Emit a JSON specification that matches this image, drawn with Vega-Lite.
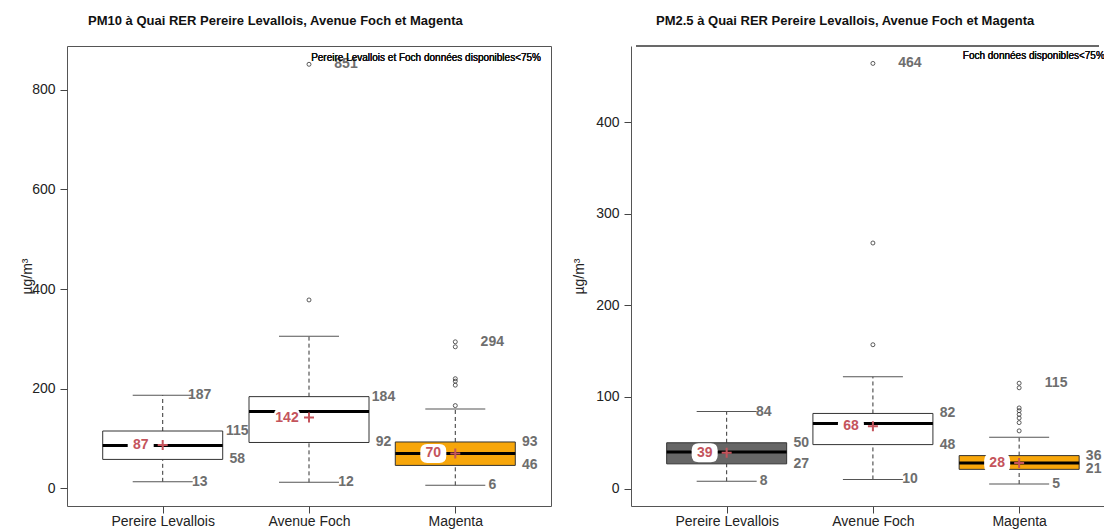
{
  "$schema": "https://vega.github.io/schema/vega-lite/v6.json",
  "padding": {"left": 19, "top": 14, "right": 0, "bottom": 0},
  "config": {
    "font": "Liberation Sans",
    "view": {"stroke": "#555", "strokeWidth": 1},
    "axis": {"grid": false, "tickSize": 7, "tickColor": "#444", "labelFontSize": 14, "labelColor": "#222", "domainColor": "#555", "titleFontWeight": "normal", "titleFontSize": 14, "titleColor": "#222", "labelFont": "Liberation Sans", "titleFont": "Liberation Sans", "labelFlush": false, "labelOverlap": false},
    "axisX": {"labelPadding": 1},
    "axisY": {"labelPadding": 5, "labelAngle": 0, "titleAngle": -90, "titleAlign": "center", "titleBaseline": "bottom", "titleY": 230},
    "title": {"fontSize": 13, "fontWeight": "bold", "color": "#111", "anchor": "start", "frame": "group", "baseline": "alphabetic", "offset": 18, "font": "Liberation Sans"}
  },
  "datasets": {
    "pm10": [
      {"site": "Pereire Levallois", "pos": 1, "low": 13, "q1": 58, "med": 86, "q3": 115, "high": 187, "mean": 87, "max": 187},
      {"site": "Avenue Foch", "pos": 2, "low": 12, "q1": 92, "med": 154, "q3": 184, "high": 305, "mean": 142, "max": 851},
      {"site": "Magenta", "pos": 3, "low": 6, "q1": 46, "med": 70, "q3": 93, "high": 159, "mean": 70, "max": 294}
    ],
    "pm10_out": [
      {"site": "Avenue Foch", "pos": 2, "value": 378},
      {"site": "Avenue Foch", "pos": 2, "value": 851},
      {"site": "Magenta", "pos": 3, "value": 166},
      {"site": "Magenta", "pos": 3, "value": 207},
      {"site": "Magenta", "pos": 3, "value": 215},
      {"site": "Magenta", "pos": 3, "value": 220},
      {"site": "Magenta", "pos": 3, "value": 284},
      {"site": "Magenta", "pos": 3, "value": 294}
    ],
    "pm25": [
      {"site": "Pereire Levallois", "pos": 1, "low": 8, "q1": 27, "med": 40, "q3": 50, "high": 84, "mean": 39, "max": 84},
      {"site": "Avenue Foch", "pos": 2, "low": 10, "q1": 48, "med": 71, "q3": 82, "high": 122, "mean": 68, "max": 464},
      {"site": "Magenta", "pos": 3, "low": 5, "q1": 21, "med": 28, "q3": 36, "high": 56, "mean": 28, "max": 115}
    ],
    "pm25_out": [
      {"site": "Avenue Foch", "pos": 2, "value": 157},
      {"site": "Avenue Foch", "pos": 2, "value": 268},
      {"site": "Avenue Foch", "pos": 2, "value": 464},
      {"site": "Magenta", "pos": 3, "value": 63},
      {"site": "Magenta", "pos": 3, "value": 72},
      {"site": "Magenta", "pos": 3, "value": 77},
      {"site": "Magenta", "pos": 3, "value": 81},
      {"site": "Magenta", "pos": 3, "value": 85},
      {"site": "Magenta", "pos": 3, "value": 88},
      {"site": "Magenta", "pos": 3, "value": 110},
      {"site": "Magenta", "pos": 3, "value": 115}
    ]
  },
  "resolve": {"scale": {"color": "independent"}},
  "spacing": 20,
  "hconcat": [
    {
      "width": 484,
      "height": 460,
      "title": {"text": "PM10 à Quai RER Pereire Levallois, Avenue Foch et Magenta", "dx": 21},
      "data": {"name": "pm10"},
      "encoding": {
        "x": {"field": "pos", "type": "quantitative", "scale": {"domain": [0.38, 3.62], "nice": false, "zero": false},
          "axis": {"values": [1, 2, 3], "labelExpr": "datum.value == 1 ? 'Pereire Levallois' : datum.value == 2 ? 'Avenue Foch' : 'Magenta'", "domain": false, "title": null}}
      },
      "layer": [
        {"mark": {"type": "rule", "strokeDash": [4, 3], "color": "#333", "strokeWidth": 1},
         "encoding": {"y": {"field": "q3", "type": "quantitative", "scale": {"domain": [-35.5, 887.7], "nice": false, "zero": false}, "axis": {"values": [0, 200, 400, 600, 800], "title": "µg/m³", "domain": false, "titleX": -33}}, "y2": {"field": "high"}}},
        {"mark": {"type": "rule", "strokeDash": [4, 3], "color": "#333", "strokeWidth": 1},
         "encoding": {"y": {"field": "low", "type": "quantitative", "scale": {"domain": [-35.5, 887.7], "nice": false, "zero": false}, "axis": {"values": [0, 200, 400, 600, 800], "title": "µg/m³", "domain": false, "titleX": -33}}, "y2": {"field": "q1"}}},
        {"mark": {"type": "tick", "orient": "horizontal", "size": 60, "thickness": 1, "color": "#555", "opacity": 1},
         "encoding": {"y": {"field": "high", "type": "quantitative", "scale": {"domain": [-35.5, 887.7], "nice": false, "zero": false}, "axis": {"values": [0, 200, 400, 600, 800], "title": "µg/m³", "domain": false, "titleX": -33}}}},
        {"mark": {"type": "tick", "orient": "horizontal", "size": 60, "thickness": 1, "color": "#555", "opacity": 1},
         "encoding": {"y": {"field": "low", "type": "quantitative", "scale": {"domain": [-35.5, 887.7], "nice": false, "zero": false}, "axis": {"values": [0, 200, 400, 600, 800], "title": "µg/m³", "domain": false, "titleX": -33}}}},
        {"mark": {"type": "bar", "width": 120, "stroke": "#333", "strokeWidth": 1},
         "encoding": {"y": {"field": "q1", "type": "quantitative", "scale": {"domain": [-35.5, 887.7], "nice": false, "zero": false}, "axis": {"values": [0, 200, 400, 600, 800], "title": "µg/m³", "domain": false, "titleX": -33}}, "y2": {"field": "q3"},
           "color": {"field": "site", "type": "nominal", "scale": {"domain": ["Pereire Levallois", "Avenue Foch", "Magenta"], "range": ["#ffffff", "#ffffff", "#F7A60A"]}, "legend": null}}},
        {"mark": {"type": "tick", "orient": "horizontal", "size": 120, "thickness": 3, "color": "#000", "opacity": 1},
         "encoding": {"y": {"field": "med", "type": "quantitative", "scale": {"domain": [-35.5, 887.7], "nice": false, "zero": false}, "axis": {"values": [0, 200, 400, 600, 800], "title": "µg/m³", "domain": false, "titleX": -33}}}},
        {"data": {"name": "pm10_out"},
         "mark": {"type": "point", "shape": "circle", "size": 16, "filled": false, "color": "#333", "strokeWidth": 0.8, "opacity": 1},
         "encoding": {"y": {"field": "value", "type": "quantitative", "scale": {"domain": [-35.5, 887.7], "nice": false, "zero": false}, "axis": {"values": [0, 200, 400, 600, 800], "title": "µg/m³", "domain": false, "titleX": -33}}}},
        {"mark": {"type": "point", "shape": "M-2.947,-1L-1.685,-1Q-0.948,-1,-0.948,-0.263L-0.948,0.263Q-0.948,1,-1.685,1L-2.947,1Q-3.684,1,-3.684,0.263L-3.684,-0.263Q-3.684,-1,-2.947,-1Z", "size": 361, "filled": true, "color": "#ffffff", "strokeWidth": 0, "opacity": 1},
         "encoding": {"y": {"field": "mean", "type": "quantitative", "scale": {"domain": [-35.5, 887.7], "nice": false, "zero": false}, "axis": {"values": [0, 200, 400, 600, 800], "title": "µg/m³", "domain": false, "titleX": -33}}}},
        {"mark": {"type": "text", "dx": -22, "fontSize": 14, "fontWeight": "bold", "color": "#C4545C", "baseline": "middle", "align": "center"},
         "encoding": {"y": {"field": "mean", "type": "quantitative", "scale": {"domain": [-35.5, 887.7], "nice": false, "zero": false}, "axis": {"values": [0, 200, 400, 600, 800], "title": "µg/m³", "domain": false, "titleX": -33}}, "text": {"field": "mean", "type": "quantitative"}}},
        {"mark": {"type": "point", "shape": "M-1,0L1,0M0,-1L0,1", "size": 100, "filled": false, "color": "#C4545C", "strokeWidth": 2, "opacity": 1},
         "encoding": {"y": {"field": "mean", "type": "quantitative", "scale": {"domain": [-35.5, 887.7], "nice": false, "zero": false}, "axis": {"values": [0, 200, 400, 600, 800], "title": "µg/m³", "domain": false, "titleX": -33}}}},
        {"mark": {"type": "text", "dx": 37, "fontSize": 14, "fontWeight": "bold", "color": "#6E6E6E", "baseline": "middle", "align": "center"},
         "encoding": {"y": {"field": "max", "type": "quantitative", "scale": {"domain": [-35.5, 887.7], "nice": false, "zero": false}, "axis": {"values": [0, 200, 400, 600, 800], "title": "µg/m³", "domain": false, "titleX": -33}}, "text": {"field": "max", "type": "quantitative"}}},
        {"mark": {"type": "text", "dx": 37, "fontSize": 14, "fontWeight": "bold", "color": "#6E6E6E", "baseline": "middle", "align": "center"},
         "encoding": {"y": {"field": "low", "type": "quantitative", "scale": {"domain": [-35.5, 887.7], "nice": false, "zero": false}, "axis": {"values": [0, 200, 400, 600, 800], "title": "µg/m³", "domain": false, "titleX": -33}}, "text": {"field": "low", "type": "quantitative"}}},
        {"mark": {"type": "text", "dx": 74.5, "fontSize": 14, "fontWeight": "bold", "color": "#6E6E6E", "baseline": "middle", "align": "center"},
         "encoding": {"y": {"field": "q3", "type": "quantitative", "scale": {"domain": [-35.5, 887.7], "nice": false, "zero": false}, "axis": {"values": [0, 200, 400, 600, 800], "title": "µg/m³", "domain": false, "titleX": -33}}, "text": {"field": "q3", "type": "quantitative"}}},
        {"mark": {"type": "text", "dx": 74.5, "fontSize": 14, "fontWeight": "bold", "color": "#6E6E6E", "baseline": "middle", "align": "center"},
         "encoding": {"y": {"field": "q1", "type": "quantitative", "scale": {"domain": [-35.5, 887.7], "nice": false, "zero": false}, "axis": {"values": [0, 200, 400, 600, 800], "title": "µg/m³", "domain": false, "titleX": -33}}, "text": {"field": "q1", "type": "quantitative"}}},
        {"mark": {"type": "text", "dx": -5, "fontSize": 10, "color": "#111", "baseline": "middle", "align": "right"},
         "encoding": {
           "x": {"datum": 3.62, "type": "quantitative", "scale": {"domain": [0.38, 3.62], "nice": false, "zero": false}, "axis": {"values": [1, 2, 3], "labelExpr": "datum.value == 1 ? 'Pereire Levallois' : datum.value == 2 ? 'Avenue Foch' : 'Magenta'", "domain": false, "title": null}},
           "y": {"datum": 864, "type": "quantitative", "scale": {"domain": [-35.5, 887.7], "nice": false, "zero": false}, "axis": {"values": [0, 200, 400, 600, 800], "title": "µg/m³", "domain": false, "titleX": -33}},
           "text": {"value": "Pereire Levallois et Foch données disponibles<75%"}}}
      ]
    },
    {
      "width": 473,
      "height": 460,
      "view": {"stroke": null},
      "title": {"text": "PM2.5 à Quai RER Pereire Levallois, Avenue Foch et Magenta", "dx": 25},
      "data": {"name": "pm25"},
      "encoding": {
        "x": {"field": "pos", "type": "quantitative", "scale": {"domain": [0.38, 3.546], "nice": false, "zero": false},
          "axis": {"values": [1, 2, 3], "labelExpr": "datum.value == 1 ? 'Pereire Levallois' : datum.value == 2 ? 'Avenue Foch' : 'Magenta'", "domain": true, "title": null}}
      },
      "layer": [
        {"mark": {"type": "rule", "strokeDash": [4, 3], "color": "#333", "strokeWidth": 1},
         "encoding": {"y": {"field": "q3", "type": "quantitative", "scale": {"domain": [-19, 483], "nice": false, "zero": false}, "axis": {"values": [0, 100, 200, 300, 400], "title": "µg/m³", "domain": true, "titleX": -45}}, "y2": {"field": "high"}}},
        {"mark": {"type": "rule", "strokeDash": [4, 3], "color": "#333", "strokeWidth": 1},
         "encoding": {"y": {"field": "low", "type": "quantitative", "scale": {"domain": [-19, 483], "nice": false, "zero": false}, "axis": {"values": [0, 100, 200, 300, 400], "title": "µg/m³", "domain": true, "titleX": -45}}, "y2": {"field": "q1"}}},
        {"mark": {"type": "tick", "orient": "horizontal", "size": 60, "thickness": 1, "color": "#555", "opacity": 1},
         "encoding": {"y": {"field": "high", "type": "quantitative", "scale": {"domain": [-19, 483], "nice": false, "zero": false}, "axis": {"values": [0, 100, 200, 300, 400], "title": "µg/m³", "domain": true, "titleX": -45}}}},
        {"mark": {"type": "tick", "orient": "horizontal", "size": 60, "thickness": 1, "color": "#555", "opacity": 1},
         "encoding": {"y": {"field": "low", "type": "quantitative", "scale": {"domain": [-19, 483], "nice": false, "zero": false}, "axis": {"values": [0, 100, 200, 300, 400], "title": "µg/m³", "domain": true, "titleX": -45}}}},
        {"mark": {"type": "bar", "width": 120, "stroke": "#333", "strokeWidth": 1},
         "encoding": {"y": {"field": "q1", "type": "quantitative", "scale": {"domain": [-19, 483], "nice": false, "zero": false}, "axis": {"values": [0, 100, 200, 300, 400], "title": "µg/m³", "domain": true, "titleX": -45}}, "y2": {"field": "q3"},
           "color": {"field": "site", "type": "nominal", "scale": {"domain": ["Pereire Levallois", "Avenue Foch", "Magenta"], "range": ["#666666", "#ffffff", "#F7A60A"]}, "legend": null}}},
        {"mark": {"type": "tick", "orient": "horizontal", "size": 120, "thickness": 3, "color": "#000", "opacity": 1},
         "encoding": {"y": {"field": "med", "type": "quantitative", "scale": {"domain": [-19, 483], "nice": false, "zero": false}, "axis": {"values": [0, 100, 200, 300, 400], "title": "µg/m³", "domain": true, "titleX": -45}}}},
        {"data": {"name": "pm25_out"},
         "mark": {"type": "point", "shape": "circle", "size": 16, "filled": false, "color": "#333", "strokeWidth": 0.8, "opacity": 1},
         "encoding": {"y": {"field": "value", "type": "quantitative", "scale": {"domain": [-19, 483], "nice": false, "zero": false}, "axis": {"values": [0, 100, 200, 300, 400], "title": "µg/m³", "domain": true, "titleX": -45}}}},
        {"mark": {"type": "point", "shape": "M-2.947,-1L-1.685,-1Q-0.948,-1,-0.948,-0.263L-0.948,0.263Q-0.948,1,-1.685,1L-2.947,1Q-3.684,1,-3.684,0.263L-3.684,-0.263Q-3.684,-1,-2.947,-1Z", "size": 361, "filled": true, "color": "#ffffff", "strokeWidth": 0, "opacity": 1},
         "encoding": {"y": {"field": "mean", "type": "quantitative", "scale": {"domain": [-19, 483], "nice": false, "zero": false}, "axis": {"values": [0, 100, 200, 300, 400], "title": "µg/m³", "domain": true, "titleX": -45}}}},
        {"mark": {"type": "text", "dx": -22, "fontSize": 14, "fontWeight": "bold", "color": "#C4545C", "baseline": "middle", "align": "center"},
         "encoding": {"y": {"field": "mean", "type": "quantitative", "scale": {"domain": [-19, 483], "nice": false, "zero": false}, "axis": {"values": [0, 100, 200, 300, 400], "title": "µg/m³", "domain": true, "titleX": -45}}, "text": {"field": "mean", "type": "quantitative"}}},
        {"mark": {"type": "point", "shape": "M-1,0L1,0M0,-1L0,1", "size": 100, "filled": false, "color": "#C4545C", "strokeWidth": 2, "opacity": 1},
         "encoding": {"y": {"field": "mean", "type": "quantitative", "scale": {"domain": [-19, 483], "nice": false, "zero": false}, "axis": {"values": [0, 100, 200, 300, 400], "title": "µg/m³", "domain": true, "titleX": -45}}}},
        {"mark": {"type": "text", "dx": 37, "fontSize": 14, "fontWeight": "bold", "color": "#6E6E6E", "baseline": "middle", "align": "center", "clip": true},
         "encoding": {"y": {"field": "max", "type": "quantitative", "scale": {"domain": [-19, 483], "nice": false, "zero": false}, "axis": {"values": [0, 100, 200, 300, 400], "title": "µg/m³", "domain": true, "titleX": -45}}, "text": {"field": "max", "type": "quantitative"}}},
        {"mark": {"type": "text", "dx": 37, "fontSize": 14, "fontWeight": "bold", "color": "#6E6E6E", "baseline": "middle", "align": "center", "clip": true},
         "encoding": {"y": {"field": "low", "type": "quantitative", "scale": {"domain": [-19, 483], "nice": false, "zero": false}, "axis": {"values": [0, 100, 200, 300, 400], "title": "µg/m³", "domain": true, "titleX": -45}}, "text": {"field": "low", "type": "quantitative"}}},
        {"mark": {"type": "text", "dx": 74.5, "fontSize": 14, "fontWeight": "bold", "color": "#6E6E6E", "baseline": "middle", "align": "center", "clip": true},
         "encoding": {"y": {"field": "q3", "type": "quantitative", "scale": {"domain": [-19, 483], "nice": false, "zero": false}, "axis": {"values": [0, 100, 200, 300, 400], "title": "µg/m³", "domain": true, "titleX": -45}}, "text": {"field": "q3", "type": "quantitative"}}},
        {"mark": {"type": "text", "dx": 74.5, "fontSize": 14, "fontWeight": "bold", "color": "#6E6E6E", "baseline": "middle", "align": "center", "clip": true},
         "encoding": {"y": {"field": "q1", "type": "quantitative", "scale": {"domain": [-19, 483], "nice": false, "zero": false}, "axis": {"values": [0, 100, 200, 300, 400], "title": "µg/m³", "domain": true, "titleX": -45}}, "text": {"field": "q1", "type": "quantitative"}}},
        {"mark": {"type": "text", "dx": -5, "fontSize": 10, "color": "#111", "baseline": "middle", "align": "right", "clip": true},
         "encoding": {
           "x": {"datum": 3.62, "type": "quantitative", "scale": {"domain": [0.38, 3.546], "nice": false, "zero": false}, "axis": {"values": [1, 2, 3], "labelExpr": "datum.value == 1 ? 'Pereire Levallois' : datum.value == 2 ? 'Avenue Foch' : 'Magenta'", "domain": true, "title": null}},
           "y": {"datum": 472.5, "type": "quantitative", "scale": {"domain": [-19, 483], "nice": false, "zero": false}, "axis": {"values": [0, 100, 200, 300, 400], "title": "µg/m³", "domain": true, "titleX": -45}},
           "text": {"value": "Foch données disponibles<75%"}}},
        {"mark": {"type": "rule", "color": "#555", "strokeWidth": 1},
         "encoding": {
           "x": {"datum": 0.38, "type": "quantitative", "scale": {"domain": [0.38, 3.546], "nice": false, "zero": false}, "axis": {"values": [1, 2, 3], "labelExpr": "datum.value == 1 ? 'Pereire Levallois' : datum.value == 2 ? 'Avenue Foch' : 'Magenta'", "domain": true, "title": null}},
           "x2": {"datum": 3.546},
           "y": {"datum": 483, "type": "quantitative", "scale": {"domain": [-19, 483], "nice": false, "zero": false}, "axis": {"values": [0, 100, 200, 300, 400], "title": "µg/m³", "domain": true, "titleX": -45}}}}
      ]
    }
  ]
}
